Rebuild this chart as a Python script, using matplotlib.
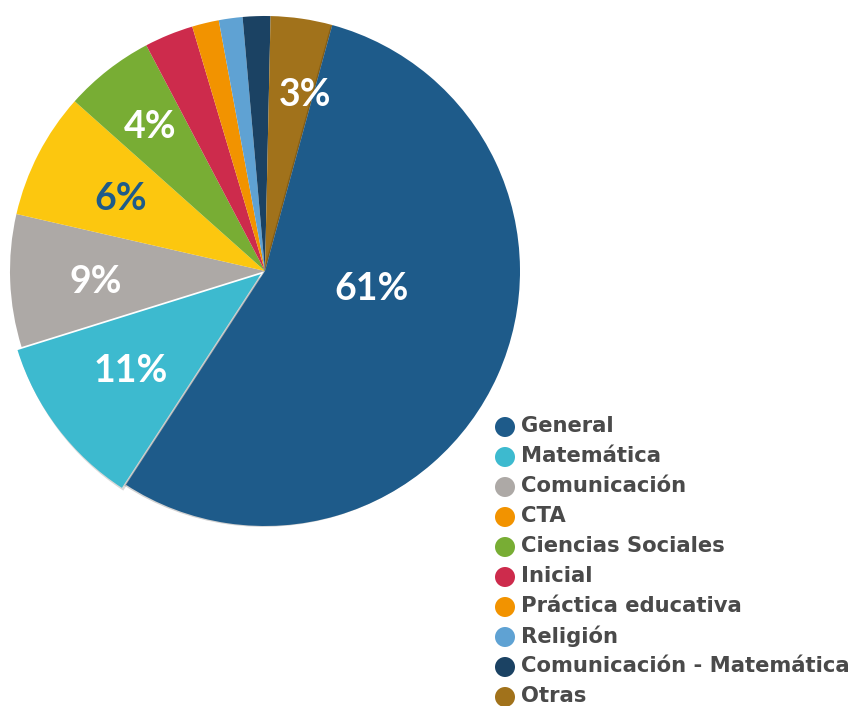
import matplotlib
matplotlib.use("Agg")
import matplotlib.pyplot as plt
import matplotlib.patheffects as pe
from matplotlib.patches import Circle

# ---- data ----
categories = ["General", "Matemática", "Comunicación", "CTA", "Ciencias Sociales",
              "Inicial", "Práctica educativa", "Religión",
              "Comunicación - Matemática", "Otras"]
values = [54.9, 11.0, 8.4, 8.0, 5.7, 3.1, 1.7, 1.5, 1.75, 3.9]
pie_colors = ["#1E5B8A", "#3DBACF", "#ADA9A6", "#FCC70F", "#78AD34",
              "#CD2B4C", "#F29300", "#5FA2D3", "#1B4263", "#A1721B"]
legend_colors = ["#1E5B8A", "#3DBACF", "#ADA9A6", "#F29300", "#78AD34",
                 "#CD2B4C", "#F29300", "#5FA2D3", "#1B4263", "#A1721B"]
pct_labels = ["61%", "11%", "9%", "6%", "4%", "3%"]
pct_label_colors = ["white", "white", "white", "#1E5B8A", "white", "white"]

W, H = 858, 706
fig = plt.figure(figsize=(W / 100, H / 100), dpi=100)

cx, cy, R = 265, 271, 255
ax = fig.add_axes([(cx - R) / W, 1 - (cy + R) / H, 2 * R / W, 2 * R / H])
ax.axis("off")

explode = [0, 0.02, 0, 0, 0, 0, 0, 0, 0, 0]
wedges, _ = ax.pie(values, colors=pie_colors, startangle=74.7, counterclock=False,
                   explode=explode, radius=1.0, center=(0, 0), frame=False,
                   wedgeprops=dict(linewidth=0))
ax.set_xlim(-1, 1)
ax.set_ylim(-1, 1)
ax.set_aspect("equal")
for w in wedges:
    w.set_zorder(2)
wedges[1].set_zorder(3)
wedges[1].set_path_effects([pe.SimplePatchShadow(offset=(1, -2), alpha=0.15, shadow_rgbFace="black"), pe.Normal()])
wedges[0].set_zorder(4)
wedges[0].set_path_effects([pe.SimplePatchShadow(offset=(-1.2, -0.6), alpha=0.18, shadow_rgbFace="black"), pe.Normal()])

label_pos = [(0.418, -0.070), (-0.527, -0.391), (-0.664, -0.043),
             (-0.566, 0.281), (-0.449, 0.566), (0.156, 0.691)]
for txt, col, (x, y) in zip(pct_labels, pct_label_colors, label_pos):
    ax.text(x, y, txt, color=col, fontsize=27, fontweight="bold", family="Lato",
            ha="center", va="center", zorder=10)

# ---- legend (manual, pixel coords) ----
lax = fig.add_axes([0, 0, 1, 1])
lax.set_xlim(0, W)
lax.set_ylim(H, 0)
lax.axis("off")
y0, dy = 426, 30
for i, (name, col) in enumerate(zip(categories, legend_colors)):
    y = y0 + i * dy
    lax.add_patch(Circle((505, y + 1), 10, color=col, lw=0))
    lax.text(521, y, name, fontsize=15.2, fontweight="bold", family="DejaVu Sans",
             color="#4A4A4A", ha="left", va="center")

fig.savefig("out.png", dpi=100)
